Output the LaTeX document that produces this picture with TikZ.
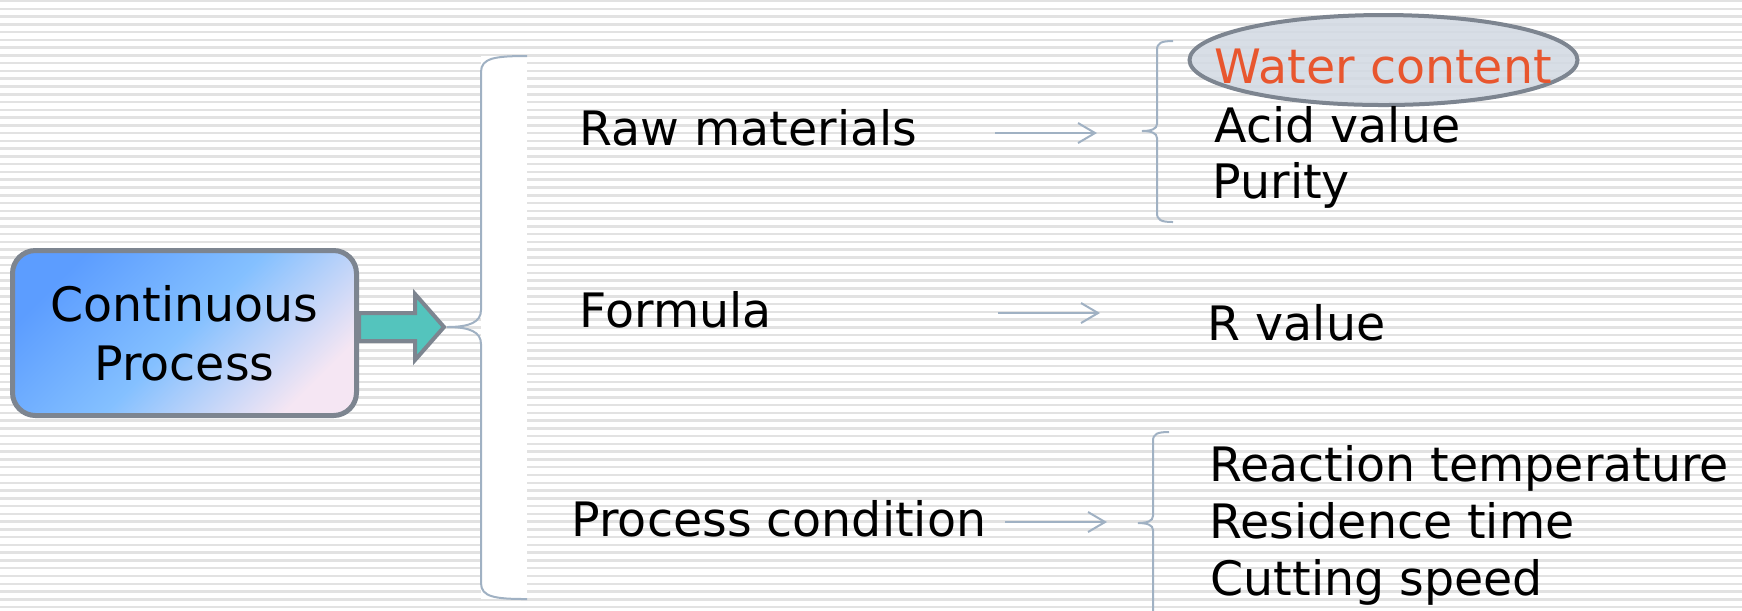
\documentclass[tikz,border=0pt]{standalone}
\usepackage{fontspec}
\setmainfont{DejaVu Sans}
\usetikzlibrary{arrows.meta}

\definecolor{boxgrey}{RGB}{125,133,144}
\definecolor{boxtop}{RGB}{92,157,255}
\definecolor{boxmid}{RGB}{132,192,255}
\definecolor{boxlow}{RGB}{245,230,243}
\definecolor{arrowteal}{RGB}{84,196,189}
\definecolor{bracecol}{RGB}{160,177,195}
\definecolor{stripecol}{RGB}{226,226,226}
\definecolor{waterred}{RGB}{232,86,46}
\definecolor{ovalfill}{RGB}{210,217,226}

\tikzset{
  bgline/.style={draw=stripecol, line width=0.25mm},
  item/.style={anchor=base west, inner sep=0pt, font=\fontsize{13.5pt}{16.8pt}\selectfont},
  bluebox/.style={draw=boxgrey, line width=0.5mm, rounded corners=2.3mm,
    minimum width=34.4mm, minimum height=16.5mm, inner sep=0pt, align=center,
    top color=boxtop, bottom color=boxlow, middle color=boxmid, shading angle=45,
    font=\fontsize{13.5pt}{16.8pt}\selectfont},
  fatarrow/.style={draw=boxgrey, fill=arrowteal, line width=0.4mm},
  bracket/.style={draw=bracecol, line width=0.2mm},
  thinarrow/.style={draw=bracecol, line width=0.2mm, -{Straight Barb[length=1.7mm, width=2mm]}},
  oval/.style={draw=boxgrey, line width=0.4mm, fill=ovalfill, fill opacity=0.85}
}

\begin{document}
\begin{tikzpicture}[x=0.1mm, y=-0.1mm]
        \useasboundingbox (0,0) rectangle (1742,610);
        \fill[white] (0,0) rectangle (1742,610);
        \foreach \i in {0,...,78}
          \draw[bgline] (0,\i*7.77+1) -- (1742,\i*7.77+1);

        \node[bluebox] (proc) at (184.5,333) {Continuous\\Process};
        \coordinate (tip) at (444,327);
        \coordinate (stem) at (proc.east |- tip);
        \draw[fatarrow] ([yshift=1.4mm]stem) -- ([xshift=-2.9mm,yshift=1.4mm]tip)
          -- ([xshift=-2.9mm,yshift=3.3mm]tip) -- (tip)
          -- ([xshift=-2.9mm,yshift=-3.3mm]tip) -- ([xshift=-2.9mm,yshift=-1.4mm]tip)
          -- ([yshift=-1.4mm]stem) -- cycle;

        \fill[white] (481,56) rectangle (527,599);
        \draw[bracket] (527,56) .. controls (495,56) and (481,58) .. (481,72) -- (481,310)
          .. controls (481,322) and (470,327) .. ([xshift=0.3mm]tip)
          .. controls (470,327) and (481,332) .. (481,344) -- (481,583)
          .. controls (481,597) and (495,599) .. (527,599);

        \node[item] (raw) at (579,145) {Raw materials};
        \node[item] (formula) at (579,327) {Formula};
        \node[item] (cond) at (571,536) {Process condition};

        \coordinate (a1) at (995,133);
        \coordinate (b1) at (1097,133);
        \coordinate (a2) at (998,313);
        \coordinate (b2) at (1100,313);
        \coordinate (a3) at (1005,522);
        \coordinate (b3) at (1107,522);
        \draw[thinarrow] (a1) -- (b1);
        \draw[thinarrow] (a2) -- (b2);
        \draw[thinarrow] (a3) -- (b3);

        \coordinate (rawtip) at (1142,131);
        \draw[bracket] (1173,41) .. controls (1161,41) and (1157,43) .. (1157,50) -- (1157,124)
          .. controls (1157,129) and (1151,131) .. (rawtip)
          .. controls (1151,131) and (1157,133) .. (1157,138) -- (1157,213)
          .. controls (1157,220) and (1161,222) .. (1173,222);

        \coordinate (condtip) at (1138,523);
        \draw[bracket] (1169,432) .. controls (1157,432) and (1153,434) .. (1153,441) -- (1153,516)
          .. controls (1153,521) and (1147,523) .. (condtip)
          .. controls (1147,523) and (1153,525) .. (1153,530) -- (1153,620);

        \draw[oval] (1383.5,60) ellipse [x radius=194, y radius=45];
        \node[item, text=waterred] (water) at (1214,83) {Water content};
        \node[item] (acid) at (1214,142) {Acid value};
        \node[item] (purity) at (1212,198) {Purity};

        \node[item] (rval) at (1207,340) {R value};

        \node[item] (temp) at (1209,481) {Reaction temperature};
        \node[item] (resid) at (1209,538) {Residence time};
        \node[item] (cut) at (1210,595) {Cutting speed};
      \end{tikzpicture}
\end{document}
